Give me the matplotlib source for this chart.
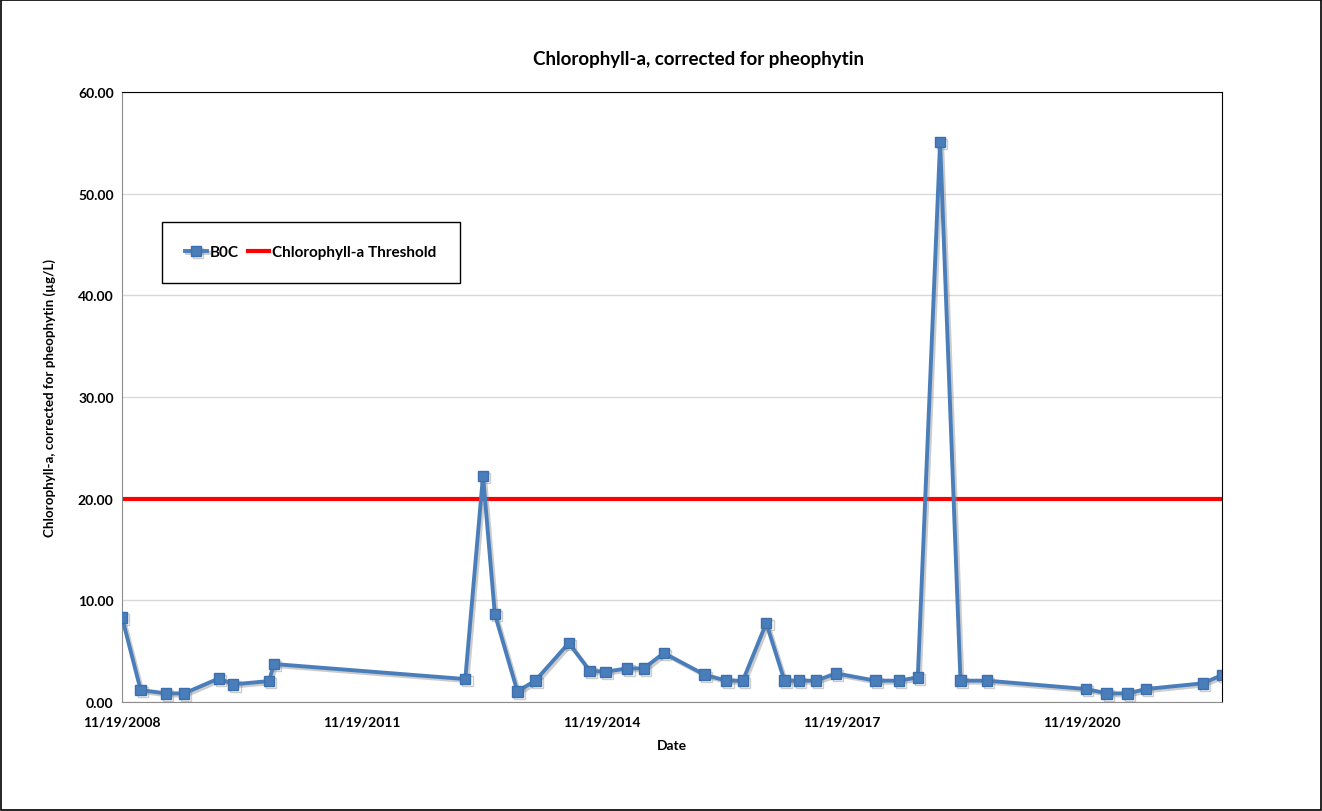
import numpy as np
import pandas as pd
import matplotlib
matplotlib.use('Agg')
import matplotlib.pyplot as plt
import matplotlib.dates as mdates
import matplotlib.patheffects as pe
from matplotlib.patches import Rectangle

plt.rcParams['font.family'] = ['Lato', 'DejaVu Sans']

# sample dates and values
dates = ['2008-11-19', '2009-02-12', '2009-06-07', '2009-08-30', '2010-02-05', '2010-04-11',
         '2010-09-22', '2010-10-13', '2013-03-06', '2013-05-26', '2013-07-19', '2013-10-30',
         '2014-01-20', '2014-06-22', '2014-09-25', '2014-12-07', '2015-03-16', '2015-05-31',
         '2015-08-30', '2016-03-03', '2016-06-10', '2016-08-25', '2016-12-10', '2017-03-03',
         '2017-05-08', '2017-07-26', '2017-10-24', '2018-04-23', '2018-08-07', '2018-11-02',
         '2019-02-12', '2019-05-16', '2019-09-15', '2020-12-10', '2021-03-14', '2021-06-18',
         '2021-09-10', '2022-05-27', '2022-08-23']
b0c = [8.33, 1.18, 0.85, 0.85, 2.33, 1.74, 2.06, 3.74, 2.26, 22.25, 8.65, 1.05, 2.1, 5.8,
       3.08, 2.98, 3.31, 3.31, 4.82, 2.69, 2.1, 2.1, 7.77, 2.1, 2.1, 2.1, 2.82, 2.1, 2.1,
       2.43, 55.1, 2.1, 2.1, 1.28, 0.85, 0.85, 1.28, 1.84, 2.65]
threshold = 20.0
tick_dates = ['2008-11-19', '2011-11-19', '2014-11-19', '2017-11-19', '2020-11-19']

x = pd.to_datetime(dates)
ticks = pd.to_datetime(tick_dates)

fig = plt.figure(figsize=(13.22, 8.12), dpi=100)
ax = fig.add_axes([0.0923, 0.1342, 0.8321, 0.7513])

shadow = [pe.SimpleLineShadow(offset=(1.5, -1.5), shadow_color='grey', alpha=0.4), pe.Normal()]

ax.plot(x, b0c, color='#4a7ebb', lw=2.8, marker='s', ms=7.5, mfc='#4a7ebb',
        mec='#3d6fae', label='B0C', path_effects=shadow, zorder=3)
ax.plot([x[0], x[-1]], [threshold, threshold], color='#ff0000', lw=3,
        label='Chlorophyll-a Threshold', zorder=2)

ax.set_xlim(x[0], x[-1])
ax.set_ylim(0, 60)
ax.set_yticks(np.arange(0, 61, 10))
ax.yaxis.set_major_formatter(plt.FuncFormatter(lambda v, p: '%.2f' % v))
ax.set_xticks(ticks)
ax.set_xticklabels([d.strftime('%m/%d/%Y').lstrip('0') for d in ticks])

ax.grid(axis='y', color='#d9d9d9', lw=1)
ax.set_axisbelow(True)
ax.tick_params(axis='y', labelsize=10, length=0, pad=6)
ax.tick_params(axis='x', labelsize=10, length=0, pad=10)
for lab in ax.get_xticklabels() + ax.get_yticklabels():
    lab.set_fontweight('bold')

for s in ['top', 'right']:
    ax.spines[s].set_color('black')
for s in ['left', 'bottom']:
    ax.spines[s].set_color('#8c8c8c')

ax.set_title('Chlorophyll-a, corrected for pheophytin', fontsize=13.5, fontweight='bold',
             pad=20, x=0.5245)
ax.set_xlabel('Date', fontsize=10, fontweight='bold', labelpad=8)
ax.set_ylabel('Chlorophyll-a, corrected for pheophytin (µg/L)', fontsize=9.6, fontweight='bold', labelpad=16)

leg = ax.legend(loc='upper left', bbox_to_anchor=(0.029, 0.80), ncol=2, fancybox=False,
                edgecolor='black', framealpha=1, fontsize=11, handlelength=1.4,
                handletextpad=0.2, columnspacing=0.6, borderpad=1.55)
leg.get_frame().set_linewidth(1)
for t in leg.get_texts():
    t.set_fontweight('bold')

fig.patches.append(Rectangle((0.001, 0.001), 0.998, 0.998, transform=fig.transFigure,
                             fill=False, edgecolor='black', lw=1.2))

fig.savefig('out.png', dpi=100)
